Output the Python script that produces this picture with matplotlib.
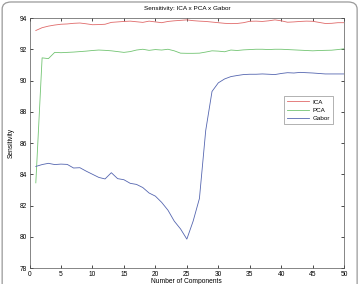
import matplotlib
matplotlib.use("Agg")
import matplotlib.pyplot as plt
from matplotlib.patches import FancyBboxPatch

plt.rcParams['font.family'] = ['Liberation Sans', 'DejaVu Sans']

# number of components
components = list(range(1, 51))

ica = [93.20, 93.38, 93.48, 93.55, 93.60, 93.62, 93.66, 93.68, 93.63, 93.57,
       93.58, 93.60, 93.72, 93.75, 93.78, 93.80, 93.76, 93.72, 93.80, 93.75,
       93.70, 93.78, 93.82, 93.85, 93.88, 93.83, 93.80, 93.78, 93.74, 93.70,
       93.66, 93.64, 93.65, 93.70, 93.79, 93.80, 93.78, 93.82, 93.88, 93.82,
       93.73, 93.75, 93.78, 93.80, 93.79, 93.72, 93.65, 93.66, 93.70, 93.70]

pca = [83.45, 91.45, 91.40, 91.80, 91.78, 91.80, 91.82, 91.85, 91.88, 91.92,
       91.95, 91.93, 91.90, 91.85, 91.80, 91.85, 91.95, 92.00, 91.93, 91.98,
       91.95, 92.00, 91.90, 91.75, 91.74, 91.74, 91.75, 91.82, 91.90, 91.88,
       91.84, 91.95, 91.92, 91.96, 91.98, 92.00, 92.00, 91.98, 92.00, 92.00,
       91.98, 91.96, 91.94, 91.92, 91.90, 91.92, 91.93, 91.94, 91.98, 92.03]

gabor = [84.50, 84.62, 84.70, 84.62, 84.65, 84.63, 84.40, 84.42, 84.20, 84.00,
         83.80, 83.70, 84.10, 83.72, 83.65, 83.42, 83.35, 83.15, 82.80, 82.60,
         82.20, 81.70, 81.00, 80.50, 79.85, 81.00, 82.45, 86.80, 89.30, 89.85,
         90.10, 90.25, 90.32, 90.38, 90.40, 90.40, 90.42, 90.40, 90.38, 90.45,
         90.50, 90.48, 90.52, 90.50, 90.48, 90.45, 90.42, 90.42, 90.42, 90.42]

fig = plt.figure(figsize=(3.6, 2.84), dpi=100)

# rounded frame round the whole figure
frame = FancyBboxPatch((0.006, -0.05), 0.986, 1.043,
                       boxstyle="round,pad=0,rounding_size=0.025",
                       transform=fig.transFigure, fill=False,
                       edgecolor='#9a9a9a', linewidth=0.9)
fig.patches.append(frame)

ax = fig.add_axes([0.082, 0.0563, 0.874, 0.8803])
ax.plot(components, ica, color='#e06a6a', linewidth=0.6, label='ICA')
ax.plot(components, pca, color='#72c472', linewidth=0.6, label='PCA')
ax.plot(components, gabor, color='#5566b0', linewidth=0.6, label='Gabor')

ax.set_xlim(0, 50)
ax.set_ylim(78, 94)
ax.set_xticks(range(0, 51, 5))
ax.set_yticks(range(78, 95, 2))
ax.tick_params(direction='in', length=2.2, width=0.5, labelsize=4.8,
               top=True, right=True, pad=2)
for s in ax.spines.values():
    s.set_linewidth(0.5)
    s.set_color('#555555')

ax.set_title('Sensitivity: ICA x PCA x Gabor', fontsize=4.6, pad=6)
ax.set_xlabel('Number of Components', fontsize=4.8, labelpad=0.3)
ax.set_ylabel('Sensitivity', fontsize=4.8, labelpad=3)

leg = ax.legend(loc='upper left', bbox_to_anchor=(0.8, 0.7), fontsize=4.5,
                frameon=True, fancybox=False, handlelength=3.4,
                handletextpad=0.6, borderpad=0.5, labelspacing=0.45)
leg.get_frame().set_edgecolor('#777777')
leg.get_frame().set_linewidth(0.5)

fig.savefig('out.png', dpi=100)
